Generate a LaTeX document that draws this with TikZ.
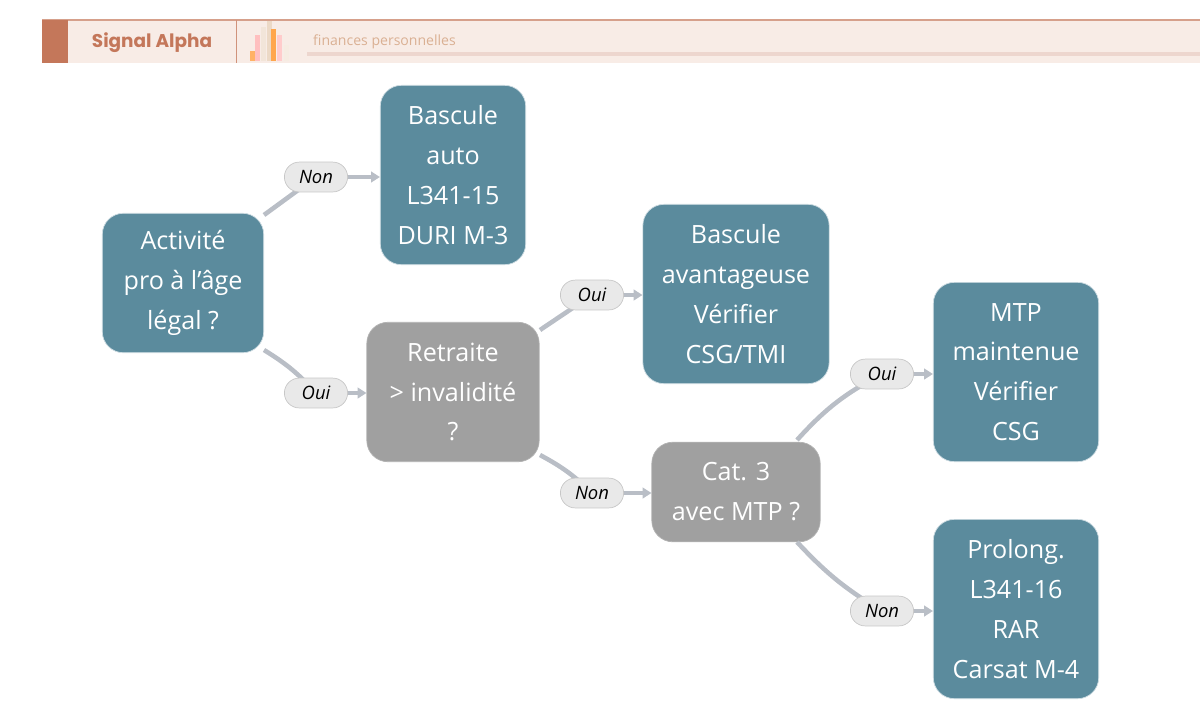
\documentclass[tikz,border=0pt]{standalone}
\usepackage{fontspec}
\setmainfont{Open Sans}
\newfontfamily\poppins{Poppins}
\usetikzlibrary{arrows.meta}
\definecolor{teal}{HTML}{5B8B9D}
\definecolor{grisbox}{HTML}{A0A0A0}
\definecolor{lien}{HTML}{B9BEC6}
\definecolor{pill}{HTML}{E9E9E9}
\definecolor{rouille}{HTML}{C4775A}
\definecolor{bande}{HTML}{F8ECE6}
\tikzset{
	boite/.style={rounded corners=12pt, draw=white!70!teal, text=white, align=center,
		font=\fontsize{14.3pt}{22.7pt}\selectfont, inner sep=0pt},
	bleue/.style={boite, fill=teal},
	grise/.style={boite, fill=grisbox, draw=grisbox!80!white},
	rep/.style={rounded corners=8.5pt, fill=pill, draw=black!22, minimum width=36pt,
		minimum height=17pt, inner sep=1pt, font=\itshape\fontsize{10.5pt}{12pt}\selectfont},
	trait/.style={draw=lien, line width=2.6pt},
	fleche/.style={trait, -{Triangle[length=5pt,width=6pt]}}
}
\begin{document}
\begin{tikzpicture}[x=0.02cm,y=-0.02cm]
	\useasboundingbox (0,0) rectangle (1200,721);
	% en-tete
	\fill[bande] (42,20) rectangle (1200,63);
	\draw[rouille!70, line width=0.8pt] (42,20) -- (1200,20);
	\fill[rouille] (42,20) rectangle (68,63);
	\draw[rouille!80] (236,20) -- (236,63);
	\node[font=\poppins\bfseries\fontsize{10.5pt}{12pt}\selectfont, text=rouille] (titre) at (152,43) {Signal Alpha};
	\foreach \x/\h/\c in {250/10/orange!60,255/26/red!25,261/34/brown!20,267/40/brown!30,271/32/orange!70,277/26/red!20,284/16/brown!15}{
		\fill[\c] (\x,61) rectangle ++(5,-\h);
	}
	\fill[rouille!30] (307,52) rectangle (1200,56);
	\node[anchor=west, text=rouille!45!brown!60, font=\fontsize{8pt}{10pt}\selectfont] (sous) at (307,42) {finances personnelles};
	% boites
	\node[bleue, minimum width=162*0.567pt, minimum height=140*0.567pt] (act) at (183,283) {Activité\\pro à l'âge\\légal ?};
	\node[bleue, minimum width=146*0.567pt, minimum height=180*0.567pt] (auto) at (453,175) {Bascule\\auto\\L341-15\\DURI M-3};
	\node[grise, minimum width=173*0.567pt, minimum height=140*0.567pt] (ret) at (453,392) {Retraite\\> invalidité\\?};
	\node[bleue, minimum width=187*0.567pt, minimum height=180*0.567pt] (avan) at (736,294) {Bascule\\avantageuse\\Vérifier\\CSG/TMI};
	\node[grise, minimum width=169*0.567pt, minimum height=100*0.567pt] (cat) at (736,492) {Cat. 3\\avec MTP ?};
	\node[bleue, minimum width=166*0.567pt, minimum height=180*0.567pt] (mtp) at (1016,372) {MTP\\maintenue\\Vérifier\\CSG};
	\node[bleue, minimum width=166*0.567pt, minimum height=180*0.567pt] (prol) at (1016,609) {Prolong.\\L341-16\\RAR\\Carsat M-4};
	% connecteurs
	\coordinate (p1) at (264,215); \coordinate (p2) at (264,350);
	\coordinate (p3) at (540,330); \coordinate (p4) at (540,455);
	\coordinate (p5) at (797,440); \coordinate (p6) at (797,542);
	\draw[trait] (p1) -- (316,177);
	\draw[trait] (p2) to[bend left=8] (316,393);
	\draw[trait] (p3) -- (592,295);
	\draw[trait] (p4) to[bend left=8] (592,493);
	\draw[trait] (p5) to[bend left=10] (882,374);
	\draw[trait] (p6) to[bend right=8] (882,611);
	\node[rep] (r1) at (316,177) {Non};
	\node[rep] (r2) at (316,393) {Oui};
	\node[rep] (r3) at (592,295) {Oui};
	\node[rep] (r4) at (592,493) {Non};
	\node[rep] (r5) at (882,374) {Oui};
	\node[rep] (r6) at (882,611) {Non};
	\draw[fleche] (r1) -- (auto.west|-r1);
	\draw[fleche] (r2) -- (ret.west|-r2);
	\draw[fleche] (r3) -- (avan.west|-r3);
	\draw[fleche] (r4) -- (cat.west|-r4);
	\draw[fleche] (r5) -- (mtp.west|-r5);
	\draw[fleche] (r6) -- (prol.west|-r6);
\end{tikzpicture}
\end{document}
